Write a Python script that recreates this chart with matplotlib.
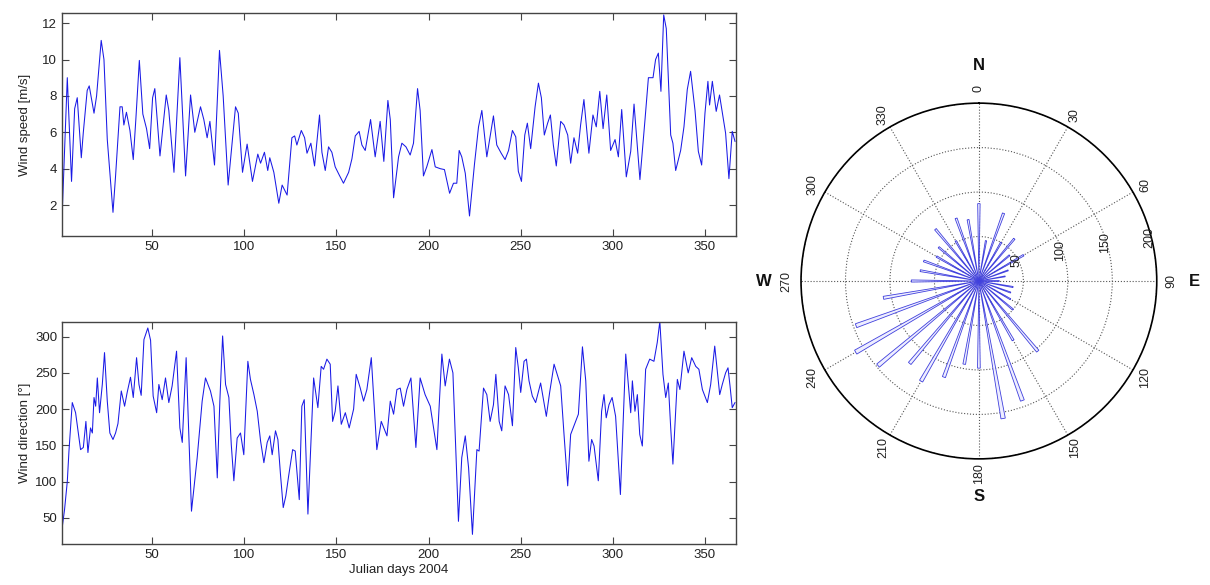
import numpy as np
import matplotlib
matplotlib.use("Agg")
import matplotlib.pyplot as plt

plt.rcParams['font.family'] = ['Liberation Sans', 'DejaVu Sans']

# ---------------- data ----------------
speed_days = [1.2, 3.9, 6.2, 7.9, 9.3, 11.5, 12.6, 14.7, 15.8, 18.4, 19.8, 22.3, 23.8, 25.6, 28.7,
              30.1, 32.5, 33.7, 34.6, 36.0, 37.9, 39.7, 41.1, 43.0, 44.9, 46.9, 48.6, 50.2, 51.4,
              54.2, 57.6, 59.0, 61.8, 65.0, 68.1, 70.8, 73.1, 76.2, 78.0, 79.8, 81.3, 83.8, 86.5,
              88.5, 91.2, 95.2, 96.7, 99.0, 101.5, 104.4, 107.3, 108.8, 110.9, 112.7, 113.8, 116.0,
              118.7, 120.5, 123.2, 125.8, 127.3, 128.5, 130.9, 132.7, 134.0, 136.1, 138.1, 140.8,
              142.1, 143.9, 145.7, 147.5, 149.3, 151.5, 153.8, 156.6, 158.4, 160.2, 162.3, 163.8,
              165.6, 168.5, 171.0, 173.7, 175.7, 177.9, 179.2, 181.0, 183.7, 185.5, 187.7, 190.0,
              191.8, 194.0, 195.4, 197.2, 199.0, 201.8, 203.6, 206.3, 208.6, 211.4, 213.5, 215.3,
              216.6, 218.0, 219.9, 222.2, 224.9, 227.1, 228.9, 231.6, 235.2, 237.0, 239.4, 241.5,
              243.4, 245.5, 247.3, 248.7, 250.4, 252.2, 253.6, 255.4, 257.8, 259.6, 261.2, 262.8,
              264.6, 266.1, 267.7, 269.3, 271.7, 273.5, 275.5, 277.1, 278.9, 280.9, 282.5, 284.3,
              287.0, 289.2, 291.0, 292.9, 294.7, 296.7, 298.8, 301.2, 303.0, 304.8, 307.3, 309.7,
              311.5, 314.7, 317.5, 319.3, 321.8, 323.2, 324.7, 326.1, 327.6, 329.0, 331.4, 332.6,
              334.1, 336.8, 338.6, 340.4, 342.2, 344.6, 346.4, 348.2, 350.0, 351.6, 352.5, 354.0,
              356.1, 357.9, 359.8, 361.2, 363.0, 364.8, 366.3]
speed_vals = [1.7, 9.0, 3.3, 7.3, 7.9, 4.6, 6.0, 8.3, 8.55, 7.05, 8.0, 11.05, 10.0, 5.6, 1.6,
              3.6, 7.4, 7.4, 6.4, 7.1, 6.1, 4.5, 6.7, 9.95, 7.0, 6.2, 5.1, 7.9, 8.4,
              4.7, 8.05, 7.2, 3.8, 10.1, 3.6, 8.05, 6.0, 7.4, 6.7, 5.7, 6.6, 4.2, 10.5,
              8.0, 3.1, 7.4, 7.05, 3.8, 5.35, 3.3, 4.8, 4.3, 4.9, 3.9, 4.6, 3.8,
              2.1, 3.1, 2.55, 5.7, 5.8, 5.3, 6.1, 5.7, 4.85, 5.4, 4.15, 6.95,
              4.9, 3.9, 5.2, 4.9, 4.1, 3.65, 3.2, 3.8, 4.55, 5.8, 6.05, 5.3,
              5.0, 6.7, 4.65, 6.6, 4.4, 7.75, 6.7, 2.4, 4.65, 5.4, 5.2, 4.75,
              5.4, 8.4, 7.2, 3.6, 4.1, 5.05, 4.1, 4.0, 3.95, 2.65, 3.2, 3.2,
              5.0, 4.65, 3.75, 1.4, 4.25, 6.3, 7.2, 4.65, 6.9, 5.3, 4.85, 4.5,
              5.0, 6.1, 5.75, 3.85, 3.3, 5.85, 6.5, 5.1, 7.4, 8.7, 7.9, 5.85,
              6.5, 6.95, 5.3, 4.15, 6.6, 6.4, 5.85, 4.3, 5.7, 4.85, 6.4, 7.8,
              4.85, 6.95, 6.3, 8.25, 6.2, 8.05, 5.0, 5.6, 4.65, 7.25, 3.55, 4.95,
              7.55, 3.4, 6.75, 9.0, 9.0, 10.0, 10.35, 8.25, 12.45, 11.7, 5.85, 5.4,
              3.9, 5.0, 6.3, 8.35, 9.35, 7.2, 4.95, 4.2, 7.05, 8.8, 7.5, 8.8,
              7.15, 8.05, 6.85, 5.95, 3.45, 6.05, 5.5]

dir_days = [1.1, 2.4, 3.9, 4.8, 6.6, 8.4, 11.1, 12.6, 14.0, 15.1, 16.5, 17.5, 18.4, 19.3, 20.2,
            21.4, 22.9, 24.1, 25.6, 27.0, 28.7, 30.1, 31.4, 33.2, 35.0, 36.4, 38.2, 39.7, 41.5,
            42.8, 44.0, 45.5, 47.6, 49.1, 50.5, 52.4, 53.6, 55.4, 57.2, 59.0, 60.8, 63.2, 65.0,
            66.3, 68.4, 71.3, 74.4, 77.1, 78.9, 81.6, 83.5, 85.3, 86.7, 88.2, 89.8, 91.6, 92.9,
            94.3, 96.1, 97.9, 99.7, 101.9, 103.3, 105.2, 107.0, 108.8, 110.6, 112.4, 113.8, 115.1,
            116.9, 118.2, 119.6, 121.1, 122.5, 124.0, 126.2, 127.6, 129.8, 131.2, 132.5, 134.5,
            137.6, 139.9, 141.7, 143.0, 144.8, 146.6, 147.9, 149.3, 150.8, 152.6, 154.8, 156.9,
            159.3, 160.7, 162.9, 164.7, 166.5, 168.9, 171.9, 174.3, 177.4, 179.2, 181.0, 182.8,
            184.6, 186.4, 188.2, 190.4, 193.1, 195.4, 198.1, 200.9, 204.5, 207.2, 209.0, 211.3,
            213.2, 216.2, 218.0, 219.9, 221.7, 223.8, 226.2, 227.4, 229.8, 231.6, 233.4, 235.2,
            236.5, 238.3, 239.7, 241.5, 243.4, 245.5, 247.3, 248.7, 250.0, 251.8, 253.1, 254.5,
            256.3, 258.1, 260.8, 263.9, 265.7, 268.1, 270.4, 271.7, 273.5, 275.5, 277.1, 278.9,
            281.3, 283.5, 285.3, 287.0, 288.5, 289.8, 292.1, 293.9, 295.2, 296.4, 297.9, 299.6,
            301.5, 304.1, 307.0, 309.7, 310.6, 312.0, 313.3, 314.6, 316.0, 317.8, 320.0, 322.3,
            324.1, 325.5, 327.2, 328.7, 330.1, 331.4, 332.6, 335.0, 336.4, 338.6, 340.9, 342.8,
            345.0, 346.7, 348.6, 351.3, 353.1, 355.3, 358.0, 359.4, 361.2, 362.5, 363.6, 364.8,
            366.3]
dir_vals = [36, 61, 100, 142, 209, 195, 144, 147, 183, 140, 174, 167, 216, 204, 243,
            195, 234, 278, 211, 167, 158, 167, 180, 225, 204, 223, 244, 216, 271,
            234, 219, 296, 312, 295, 218, 195, 234, 213, 243, 209, 232, 280, 174,
            154, 271, 59, 133, 211, 243, 225, 204, 105, 211, 301, 234, 216, 151,
            101, 160, 167, 137, 266, 241, 220, 197, 156, 126, 154, 163, 137,
            170, 158, 110, 64, 80, 107, 144, 142, 75, 204, 213, 55,
            243, 202, 259, 255, 269, 262, 183, 197, 232, 179, 195, 174,
            200, 248, 229, 211, 227, 271, 144, 183, 163, 211, 193, 227,
            229, 204, 227, 243, 147, 243, 220, 204, 144, 276, 232, 269,
            250, 45, 133, 163, 119, 27, 144, 142, 229, 220, 183, 206,
            248, 183, 170, 232, 220, 177, 285, 257, 223, 266, 269, 239,
            218, 209, 236, 190, 223, 262, 243, 232, 165, 94, 165, 177,
            193, 286, 239, 128, 158, 149, 101, 197, 220, 188, 206, 216,
            190, 82, 276, 195, 239, 197, 220, 165, 149, 255, 269, 266,
            292, 321, 248, 216, 236, 174, 124, 241, 227, 280, 250, 271,
            259, 255, 227, 209, 234, 287, 220, 234, 250, 257, 232, 202,
            209]

rose_angles = [0, 10, 20, 30, 40, 50, 60, 70, 80, 90, 100, 110, 120, 130, 140, 150, 160, 170,
               180, 190, 200, 210, 220, 230, 240, 250, 260, 270, 280, 290, 300, 310, 320, 330,
               340, 350]
rose_counts = [87, 46, 81, 50, 62, 45, 58, 35, 30, 23, 39, 38, 41, 50, 103, 77, 143, 157,
               98, 95, 115, 130, 121, 148, 160, 147, 109, 76, 67, 66, 55, 59, 76, 52,
               75, 70]

theta_ticks = [0, 30, 60, 90, 120, 150, 180, 210, 240, 270, 300, 330]
r_ticks = [50, 100, 150, 200]

# ---------------- figure ----------------
fig = plt.figure(figsize=(12.1, 5.85), dpi=100)
line_color = '#1a1ae6'
spine_color = '#444444'
text_color = '#222222'


def style_axes(ax):
    for s in ax.spines.values():
        s.set_color(spine_color)
        s.set_linewidth(1.0)
    ax.tick_params(direction='in', length=5, width=0.8, color=spine_color,
                   top=True, right=True, labelsize=9.5, labelcolor=text_color)


ax1 = fig.add_axes([0.0512, 0.5966, 0.557, 0.381])
ax1.plot(speed_days, speed_vals, color=line_color, lw=0.75)
ax1.set_xlim(1, 366.8)
ax1.set_ylim(0.3, 12.55)
ax1.set_xticks([50, 100, 150, 200, 250, 300, 350])
ax1.set_yticks([2, 4, 6, 8, 10, 12])
ax1.set_ylabel('Wind speed [m/s]', fontsize=9.5, color=text_color, labelpad=8)
style_axes(ax1)

ax2 = fig.add_axes([0.0512, 0.0701, 0.557, 0.3795])
ax2.plot(dir_days, dir_vals, color=line_color, lw=0.75)
ax2.set_xlim(1, 366.8)
ax2.set_ylim(13.7, 320.3)
ax2.set_xticks([50, 100, 150, 200, 250, 300, 350])
ax2.set_yticks([50, 100, 150, 200, 250, 300])
ax2.set_ylabel('Wind direction [°]', fontsize=9.5, color=text_color, labelpad=3)
ax2.set_xlabel('Julian days 2004', fontsize=9.5, color=text_color, labelpad=2)
style_axes(ax2)

# ---------------- rose ----------------
axp = fig.add_axes([0.662, 0.2154, 0.294, 0.6085], projection='polar')
axp.set_theta_zero_location('N')
axp.set_theta_direction(-1)
axp.bar(np.deg2rad(rose_angles), rose_counts, width=np.deg2rad(1.8),
        facecolor='#eeeeff', edgecolor='#4040dd', linewidth=0.6, zorder=3)
axp.set_ylim(0, 200)
axp.set_yticks(r_ticks)
axp.set_yticklabels([])
axp.set_thetagrids(theta_ticks, [''] * len(theta_ticks))
axp.grid(True, color='#555555', linestyle=':', linewidth=0.8)
axp.spines['polar'].set_color('black')
axp.spines['polar'].set_linewidth(1.2)

# angle labels (rotated, as in the reference)
for t in theta_ticks:
    axp.text(np.deg2rad(t), 216, str(t), fontsize=9, rotation=90,
             ha='center', va='center', clip_on=False, color=text_color)

# radial labels
r_label_angles = [61, 69.5, 73, 75.7]
for rv, ang in zip(r_ticks, r_label_angles):
    axp.text(np.deg2rad(ang), rv - 2, str(rv), fontsize=9, rotation=90,
             ha='center', va='center', clip_on=False, color=text_color, zorder=5)

for ang, txt in [(0, 'N'), (90, 'E'), (180, 'S'), (270, 'W')]:
    axp.text(np.deg2rad(ang), 242, txt, fontsize=12, fontweight='bold',
             ha='center', va='center', clip_on=False, color='#111111')

fig.savefig('out.png', dpi=100)
